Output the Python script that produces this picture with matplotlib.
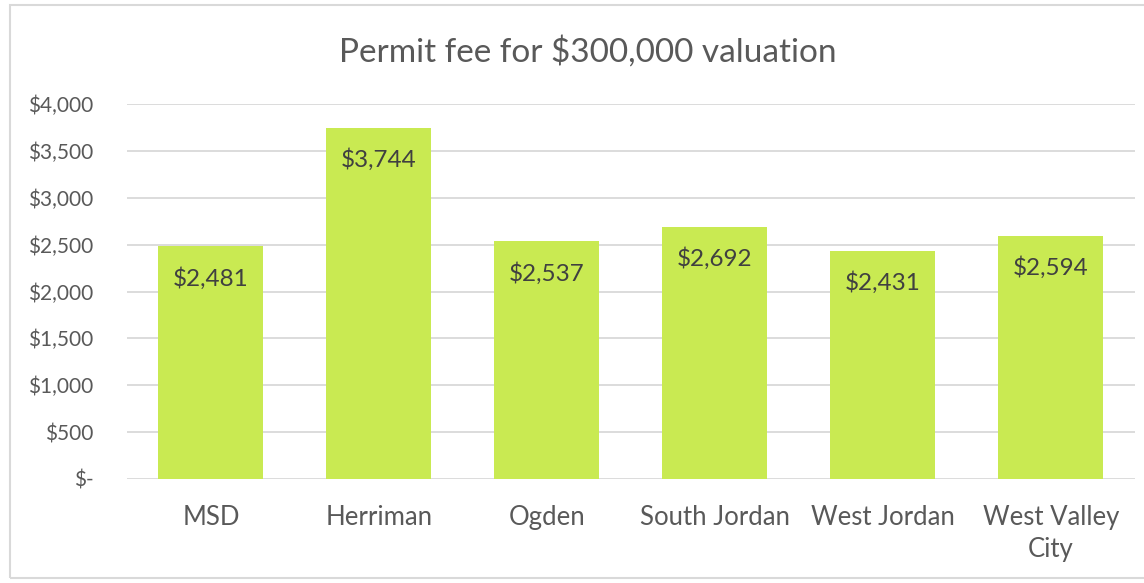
import matplotlib.pyplot as plt
from matplotlib.patches import Rectangle

plt.rcParams['font.family'] = ['Lato', 'DejaVu Sans']

# Permit fee for a $300,000 valuation, by city
cities = ['MSD', 'Herriman', 'Ogden', 'South Jordan', 'West Jordan', 'West Valley\nCity']
fees = [2481, 3744, 2537, 2692, 2431, 2594]
yticks = [0, 500, 1000, 1500, 2000, 2500, 3000, 3500, 4000]

bar_color = '#C9EA52'
text_gray = '#595959'
grid_gray = '#D9D9D9'

fig = plt.figure(figsize=(11.44, 5.83), dpi=100)
ax = fig.add_axes([0.111, 0.1784, 0.881, 0.6432])

x = range(len(cities))
bars = ax.bar(x, fees, width=0.625, color=bar_color, zorder=2)

for b, v in zip(bars, fees):
    ax.text(b.get_x() + b.get_width() / 2, v - 340, f'${v:,}',
            ha='center', va='center', fontsize=17.5, color='#404040', zorder=3)

ax.set_xlim(-0.5, len(cities) - 0.5)
ax.set_ylim(0, 4000)
ax.set_yticks(yticks)
ax.set_yticklabels(['$-' if t == 0 else f'${t:,}' for t in yticks], fontsize=15)
ax.set_xticks(list(x))
ax.set_xticklabels(cities, fontsize=18.5, linespacing=1.35)

ax.grid(axis='y', color=grid_gray, linewidth=1.3, zorder=0)
ax.tick_params(axis='both', length=0, colors=text_gray)
ax.tick_params(axis='x', pad=19)
ax.tick_params(axis='y', pad=24)
for s in ax.spines.values():
    s.set_visible(False)

fig.text(0.514, 0.912, 'Permit fee for $300,000 valuation', ha='center', va='center',
         fontsize=24, color=text_gray)

# chart border
fig.patches.append(Rectangle((10 / 1144, 5 / 583), 1140 / 1144, 573 / 583,
                             transform=fig.transFigure, fill=False,
                             edgecolor='#D9D9D9', linewidth=1.5))

fig.savefig('out.png', dpi=100)
